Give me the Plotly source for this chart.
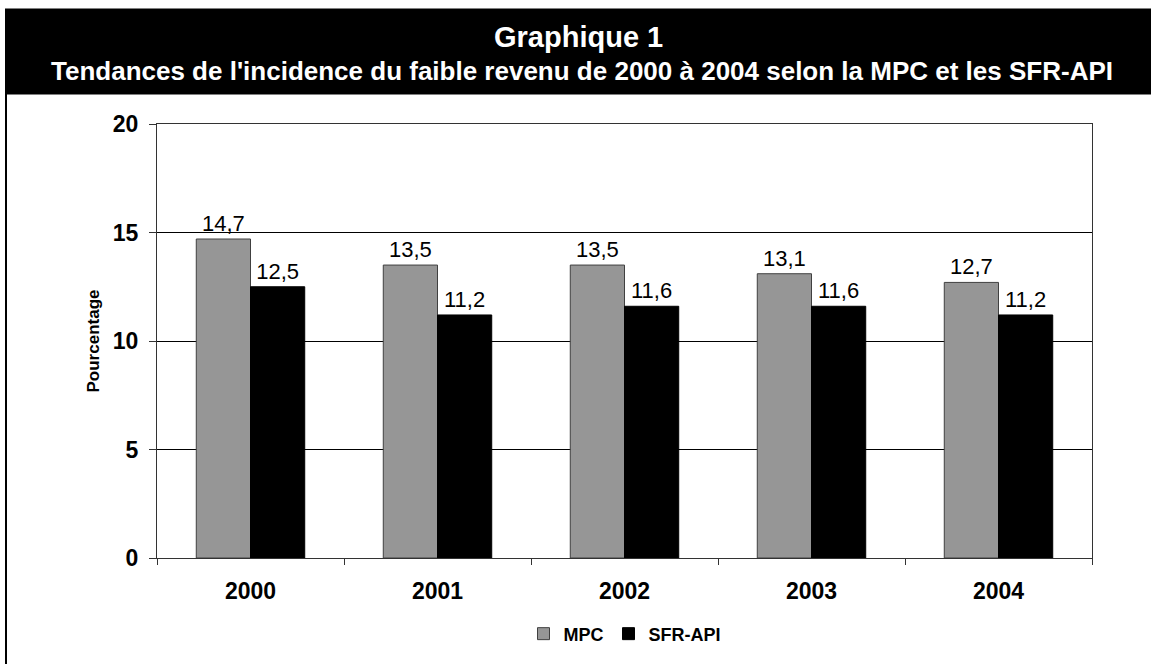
"""Graphique 1 : incidence du faible revenu, MPC vs SFR-API, 2000-2004."""
import plotly.graph_objects as go

# Data
years = ["2000", "2001", "2002", "2003", "2004"]
mpc = [14.7, 13.5, 13.5, 13.1, 12.7]
sfr_api = [12.5, 11.2, 11.6, 11.6, 11.2]

FONT = "Arial, Liberation Sans, sans-serif"

# plot area in pixels: x 157..1092, y 124..564
W, H = 1151, 664
L, R, T, B = 157, 59, 124, 100
pw = W - L - R
ph = H - T - B


def px_x(p):
    return (p - L) / pw


def px_y(p):
    return (H - B - p) / ph


fig = go.Figure()
fig.add_trace(go.Bar(
    x=years, y=mpc, name="MPC",
    marker=dict(color="#969696", line=dict(color="#404040", width=1)),
    texttemplate="%{y:.1f}", textposition="outside",
    textfont=dict(family=FONT, size=22, color="black"),
    cliponaxis=False,
))
fig.add_trace(go.Bar(
    x=years, y=sfr_api, name="SFR-API",
    marker=dict(color="black", line=dict(color="black", width=1)),
    texttemplate="%{y:.1f}", textposition="outside",
    textfont=dict(family=FONT, size=22, color="black"),
    cliponaxis=False,
))

fig.update_layout(
    width=W, height=H,
    margin=dict(l=L, r=R, t=T, b=B),
    paper_bgcolor="white", plot_bgcolor="white",
    separators=", ",
    barmode="group", bargap=0.42, bargroupgap=0,
    font=dict(family=FONT, color="black"),
    showlegend=True,
    legend=dict(orientation="h", x=0.5, xanchor="center", y=px_y(641), yanchor="middle",
                font=dict(family=FONT, size=18, color="black", weight="bold"),
                itemwidth=30, traceorder="normal"),
)
fig.update_yaxes(
    range=[0, 20], dtick=5, showgrid=True, gridcolor="black", gridwidth=1,
    showline=True, linecolor="#333333", linewidth=1, mirror=True,
    ticks="outside", ticklen=7, tickcolor="#333333", ticklabelstandoff=6,
    tickfont=dict(family=FONT, size=23, weight="bold"),
    title=dict(text="Pourcentage", font=dict(family=FONT, size=17, weight="bold"), standoff=8),
    zeroline=False,
)
fig.update_xaxes(
    showline=True, linecolor="#333333", linewidth=1, mirror=True,
    ticks="outside", ticklen=6, tickcolor="#333333", tickson="boundaries",
    ticklabelstandoff=12,
    tickfont=dict(family=FONT, size=23, weight="bold"),
)

# header band and outer frame
fig.add_shape(type="rect", xref="paper", yref="paper",
              x0=px_x(6), x1=px_x(1170), y0=px_y(680), y1=px_y(93),
              line=dict(color="black", width=2), fillcolor="rgba(0,0,0,0)", layer="below")
fig.add_shape(type="rect", xref="paper", yref="paper",
              x0=px_x(5), x1=px_x(1170), y0=px_y(93), y1=px_y(7),
              line=dict(width=0), fillcolor="black", layer="below")

fig.add_annotation(text="<b>Graphique 1</b>", xref="paper", yref="paper",
                   x=px_x(578), y=px_y(36), yanchor="middle", showarrow=False,
                   font=dict(family=FONT, size=29, color="white"))
fig.add_annotation(text="<b>Tendances de l'incidence du faible revenu de 2000 à 2004 selon la MPC et les SFR-API</b>",
                   xref="paper", yref="paper",
                   x=px_x(582), y=px_y(70), yanchor="middle", showarrow=False,
                   font=dict(family=FONT, size=26, color="white"))

fig.write_html("out.html", config={"displayModeBar": False},
               post_script="document.body.style.margin='0';")
